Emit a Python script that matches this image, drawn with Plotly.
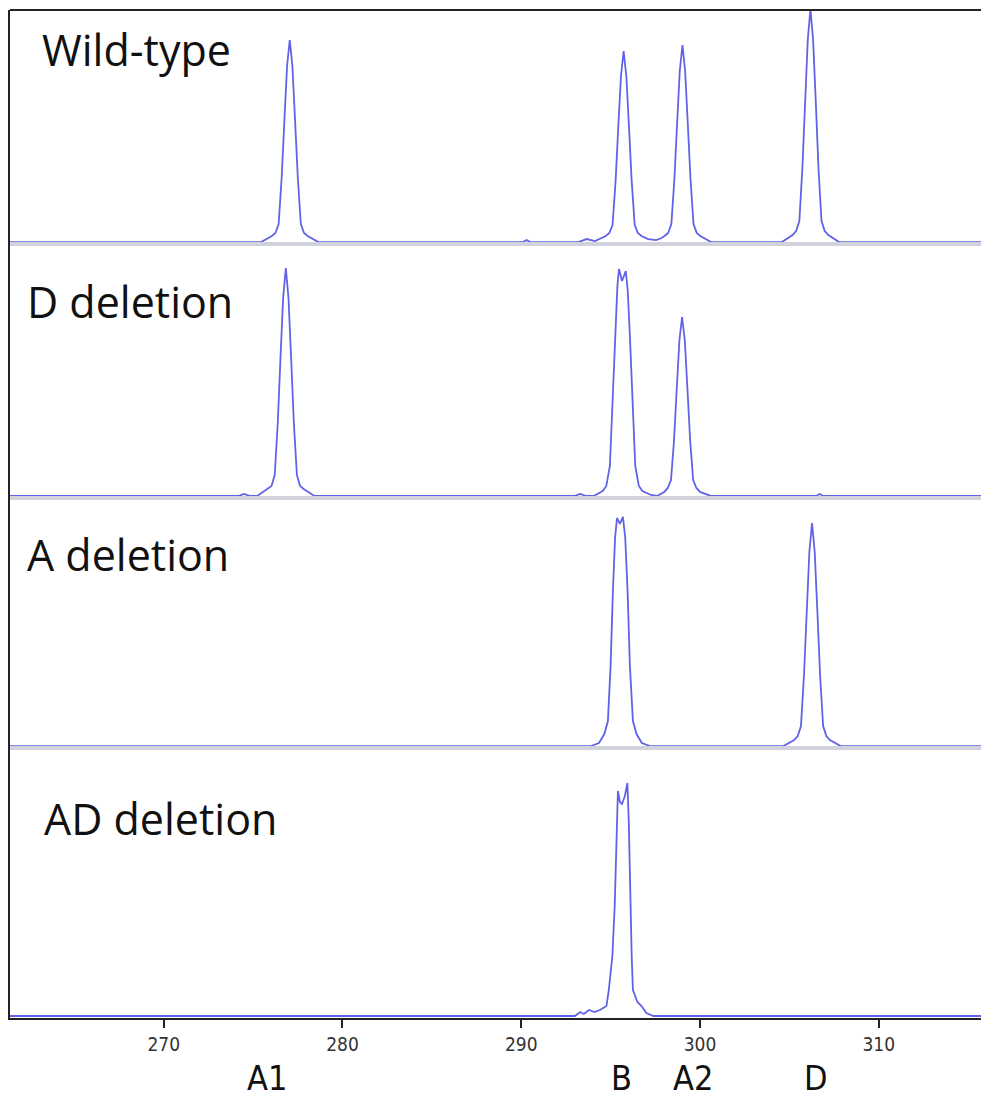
import plotly.graph_objects as go
from plotly.subplots import make_subplots

# ---- data (fragment size in bp, signal in arbitrary units) ----
panel_names = ["Wild-type", "D deletion", "A deletion", "AD deletion"]

wt_x = [261.4, 274.0, 275.45, 276.05, 276.25, 276.43, 276.6, 276.75, 276.9, 277.05, 277.2, 277.35, 277.5,
        277.67, 277.85, 278.05, 278.65, 290.1, 290.3, 290.5, 293.2, 293.66, 294.0, 294.13, 294.73, 294.93,
        295.11, 295.28, 295.43, 295.58, 295.73, 295.88, 296.03, 296.18, 296.35, 296.53, 296.73, 297.1,
        297.55, 297.85, 298.02, 298.22, 298.4, 298.57, 298.72, 298.87, 299.02, 299.17, 299.32, 299.47,
        299.64, 299.82, 300.02, 300.62, 304.58, 305.18, 305.38, 305.56, 305.73, 305.88, 306.03, 306.18,
        306.33, 306.48, 306.63, 306.8, 306.98, 307.18, 307.78, 316.2]
wt_y = [0, 0, 0, 6, 9, 18, 65, 121, 176, 202, 176, 121, 65,
        18, 9, 6, 0, 0, 2, 0, 0, 3, 1, 1, 6, 9,
        17, 61, 115, 166, 191, 166, 115, 61, 17, 9, 6, 3,
        2, 4, 6, 9, 18, 63, 118, 171, 197, 171, 118, 63,
        18, 9, 6, 0, 0, 7, 11, 21, 74, 140, 202, 233,
        202, 140, 74, 21, 11, 7, 0, 0]

d_x = [261.4, 274.2, 274.5, 274.8, 275.23, 275.83, 276.03, 276.21, 276.38, 276.53, 276.68, 276.83, 276.98,
       277.13, 277.28, 277.45, 277.63, 277.83, 278.43, 293.0, 293.3, 293.6, 294.06, 294.56, 294.76, 294.96,
       295.11, 295.26, 295.38, 295.47, 295.64, 295.85, 295.96, 296.08, 296.23, 296.38, 296.58, 296.78,
       297.26, 297.6, 298.0, 298.2, 298.38, 298.55, 298.7, 298.85, 299.0, 299.15, 299.3, 299.45, 299.62,
       299.8, 300.0, 300.6, 306.5, 306.7, 306.9, 316.2]
d_y = [0, 0, 2, 0, 0, 7, 10, 21, 73, 137, 198, 228, 198,
       137, 73, 21, 10, 7, 0, 0, 2, 0, 0, 5, 10, 30,
       90, 160, 210, 227, 215, 225, 205, 160, 90, 30, 10, 5,
       1, 0, 4, 8, 16, 56, 107, 156, 179, 156, 107, 56, 16,
       8, 4, 0, 0, 2, 0, 0]

a_x = [261.4, 293.3, 293.9, 294.35, 294.65, 294.85, 295.0, 295.13, 295.25, 295.36, 295.52, 295.69, 295.82,
       295.95, 296.08, 296.25, 296.45, 296.75, 297.2, 304.67, 305.27, 305.47, 305.65, 305.82, 305.97,
       306.12, 306.27, 306.42, 306.57, 306.72, 306.89, 307.07, 307.27, 307.87, 316.2]
a_y = [0, 0, 0, 3, 12, 25, 80, 155, 208, 228, 222, 229, 208,
       155, 80, 25, 12, 3, 0, 0, 6, 10, 20, 71, 134,
       194, 223, 194, 134, 71, 20, 10, 6, 0, 0]

ad_x = [261.4, 293.0, 293.3, 293.5, 293.8, 294.1, 294.4, 294.77, 294.9, 295.1, 295.23, 295.34, 295.41,
        295.52, 295.64, 295.8, 295.94, 296.02, 296.11, 296.18, 296.25, 296.5, 296.73, 297.0, 297.4, 316.2]
ad_y = [0, 0, 4, 2, 6, 4, 6, 10, 26, 60, 110, 193, 225,
        214, 212, 220, 233, 193, 110, 60, 26, 14, 10, 3, 0, 0]

series_x = [wt_x, d_x, a_x, ad_x]
series_y = [wt_y, d_y, a_y, ad_y]

tick_vals = [270, 280, 290, 300, 310]
peak_labels = ["A1", "B", "A2", "D"]
peak_label_pos = [275.8, 295.6, 299.6, 306.5]

# ---- figure ----
fig = make_subplots(rows=4, cols=1, shared_xaxes=True, vertical_spacing=0)

trace_color = "#6262e6"
for i in range(4):
    fig.add_trace(go.Scatter(x=series_x[i], y=series_y[i], mode="lines",
                             line=dict(color=trace_color, width=1.8),
                             showlegend=False, hoverinfo="skip"), row=i + 1, col=1)

domains = [[0.7698, 1.0], [0.5179, 0.7698], [0.2698, 0.5179], [0.0, 0.2698]]
yranges = [[0, 232], [0, 254], [0, 250], [-2, 270]]

for i in range(4):
    xa = "xaxis" if i == 0 else f"xaxis{i + 1}"
    ya = "yaxis" if i == 0 else f"yaxis{i + 1}"
    last = (i == 3)
    fig.layout[ya].update(domain=domains[i], range=yranges[i], showgrid=False, zeroline=False,
                          showticklabels=False, ticks="", showline=True, linecolor="#222",
                          linewidth=1.5, fixedrange=True)
    fig.layout[xa].update(range=[261.4, 316.17], showgrid=False, zeroline=False,
                          showline=True,
                          linecolor="#222" if last else "#d2d2dc",
                          linewidth=2 if last else 3.5,
                          ticks="outside" if last else "",
                          ticklen=8, tickwidth=1.5, tickcolor="#222",
                          tickvals=tick_vals, showticklabels=last,
                          tickfont=dict(family="Liberation Sans Narrow, DejaVu Sans Condensed, sans-serif",
                                        size=19, color="#333"))

# top frame line
fig.add_shape(type="line", xref="paper", yref="paper", x0=0, x1=1, y0=1, y1=1,
              line=dict(color="#222", width=2))

label_pos = [(0.0306, 0.961), (0.0153, 0.7113), (0.0153, 0.4603), (0.0327, 0.1975)]
for name, (px, py) in zip(panel_names, label_pos):
    fig.add_annotation(text=name, xref="paper", yref="paper", x=px, y=py, xanchor="left",
                       yanchor="middle", showarrow=False,
                       font=dict(family="Open Sans, sans-serif", size=43, color="#111"))

for lab, xv in zip(peak_labels, peak_label_pos):
    fig.add_annotation(text=lab, xref="x4", yref="paper", x=xv, y=-0.060, xanchor="center",
                       yanchor="middle", showarrow=False,
                       font=dict(family="Liberation Sans Narrow, DejaVu Sans Condensed, sans-serif",
                                 size=34, color="#111"))

fig.update_layout(width=981, height=1094, margin=dict(l=2, r=0, t=2, b=84),
                  plot_bgcolor="white", paper_bgcolor="white")

fig.write_html("out.html")
